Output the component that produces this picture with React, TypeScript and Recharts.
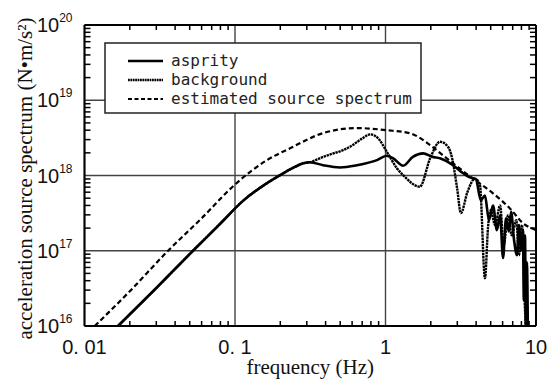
import React from 'react';
import { LineChart, Line, XAxis, YAxis, CartesianGrid, Legend } from 'recharts';

// ---- data (frequency in Hz, acceleration source spectrum in N·m/s²) ----
const asperityFreq = [
  0.0167, 0.03, 0.0526, 0.08, 0.113, 0.163, 0.209, 0.25, 0.284, 0.315,
  0.385, 0.499, 0.647, 0.878, 1.02, 1.12, 1.31, 1.52, 1.78, 2.04, 2.3, 2.81,
  3.2, 3.6, 3.99, 4.3, 4.58, 4.87, 5.18, 5.5, 5.77, 6.04, 6.32, 6.6, 6.83,
  7.15, 7.48, 7.7, 7.95, 8.2, 8.3, 8.45, 8.59, 8.7, 8.85,
];
const asperityAmp = [
  1e16, 3.2e16, 1e17, 2.3e17, 4.6e17, 7.9e17, 1.07e18, 1.3e18, 1.45e18, 1.5e18,
  1.37e18, 1.28e18, 1.37e18, 1.6e18, 1.83e18, 1.7e18, 1.35e18, 1.77e18, 1.97e18, 1.77e18, 1.69e18, 1.37e18,
  1.11e18, 9.5e17, 8.9e17, 4.7e17, 5.4e17, 2.55e17, 4.0e17, 1.88e17, 2.97e17, 8.0e16, 2.7e17, 1.8e17, 3.3e17,
  1.38e17, 8.7e16, 2.19e17, 1.0e17, 1.88e17, 2.2e16, 1.6e17, 5e15, 7e16, 5e15,
];

const backgroundFreq = [
  0.0167, 0.03, 0.0526, 0.08, 0.113, 0.163, 0.209, 0.25, 0.284, 0.315,
  0.385, 0.581, 0.7, 0.789, 0.891, 1.02, 1.19, 1.31, 1.69, 1.98, 2.3, 2.6, 2.77,
  2.99, 3.17, 3.5, 3.93, 4.24, 4.58, 4.8, 5.0, 5.35, 5.77, 6.1, 6.52, 6.9,
  7.4, 7.7, 8.07, 8.4, 8.7,
];
const backgroundAmp = [
  1e16, 3.2e16, 1e17, 2.3e17, 4.6e17, 7.9e17, 1.07e18, 1.3e18, 1.45e18, 1.5e18,
  1.77e18, 2.41e18, 3.1e18, 3.52e18, 3.14e18, 2.07e18, 1.25e18, 1.01e18, 7.1e17, 1.69e18, 2.81e18, 2.41e18, 1.7e18,
  6.8e17, 3.16e17, 6.0e17, 9.1e17, 7.5e17, 4.3e16, 2.06e17, 3.47e17, 2.19e17, 4.0e17, 1.19e17, 2.97e17, 1.6e17,
  2.55e17, 8.7e16, 2.2e17, 2.2e16, 5e15,
];

const sourceFreq = [
  0.0117, 0.02, 0.0359, 0.06, 0.1, 0.163, 0.232, 0.385, 0.647, 1.02,
  1.46, 1.98, 2.41, 3.81, 5.18, 6.71, 8.19, 10,
];
const sourceAmp = [
  1e16, 2.9e16, 1e17, 2.7e17, 7.6e17, 1.6e18, 2.3e18, 3.66e18, 4.27e18, 4.0e18,
  3.63e18, 2.54e18, 1.85e18, 9.1e17, 5.8e17, 3.65e17, 2.33e17, 1.88e17,
];

const seriesNames = ['asprity', 'background', 'estimated source spectrum'];

const xTicks = [0.01, 0.1, 1, 10];
const xTickLabels = ['0. 01', '0. 1', '1', '10'];
const yTicks = [1e16, 1e17, 1e18, 1e19, 1e20];
const yTickExponents = ['16', '17', '18', '19', '20'];
const minorMultipliers = [2, 3, 4, 5, 6, 7, 8, 9];
const xDecades = [0.01, 0.1, 1];
const yDecades = [1e16, 1e17, 1e18, 1e19];

const xMinorTicks = xDecades.flatMap((d) => minorMultipliers.map((m) => d * m));
const yMinorTicks = yDecades.flatMap((d) => minorMultipliers.map((m) => d * m));

const toPoints = (fs: number[], vs: number[]) => fs.map((f, i) => ({ f, v: vs[i] }));
const asperityData = toPoints(asperityFreq, asperityAmp);
const backgroundData = toPoints(backgroundFreq, backgroundAmp);
const sourceData = toPoints(sourceFreq, sourceAmp);

const styles = [
  { width: 2.6, dash: undefined as string | undefined },
  { width: 2.4, dash: '2.4 0.7' },
  { width: 2.2, dash: '5 3' },
];

const TICK_FONT = '"Liberation Sans Narrow", "Liberation Sans", Arial, sans-serif';
const SERIF_FONT = '"Liberation Serif", "Times New Roman", serif';
const MONO_FONT = '"DejaVu Sans Mono", "Liberation Mono", monospace';

const NoLabel = () => <g />;

const XTick = (props: any) => {
  const { x, y, index } = props;
  return (
    <text x={x} y={y + 28} textAnchor="middle" fontFamily={TICK_FONT} fontSize={20} fill="#111">
      {xTickLabels[index]}
    </text>
  );
};

const YTick = (props: any) => {
  const { x, y, index } = props;
  return (
    <text x={x} y={y} textAnchor="end" fontFamily={TICK_FONT} fill="#111">
      <tspan fontSize={20} dy={7}>10</tspan>
      <tspan fontSize={12} dy={-10}>{yTickExponents[index]}</tspan>
    </text>
  );
};

const LegendBox = () => (
  <svg width={318} height={72} style={{ display: 'block' }}>
    <rect x={1} y={1} width={316} height={70} fill="#fff" stroke="#222" strokeWidth={1.5} />
    {seriesNames.map((name, i) => (
      <g key={name}>
        <line
          x1={24}
          x2={59}
          y1={19 + i * 19}
          y2={19 + i * 19}
          stroke="#000"
          strokeWidth={styles[i].width}
          strokeDasharray={i === 2 ? '4 2.5' : i === 1 ? '1.8 0.6' : undefined}
        />
        <text x={67} y={19 + i * 19 + 5} fontFamily={MONO_FONT} fontSize={16} fill="#222">
          {name}
        </text>
      </g>
    ))}
  </svg>
);

export default function App() {
  return (
    <div style={{ position: 'absolute', left: 0, top: 0, width: 553, height: 381, background: '#fff' }}>
      <LineChart width={553} height={381} margin={{ top: 25, right: 17, bottom: 0, left: 0 }}>
        <CartesianGrid stroke="#444" strokeWidth={1.4} fill="none" />
        <XAxis
          xAxisId="minorBottom"
          dataKey="f"
          type="number"
          scale="log"
          domain={[0.01, 10]}
          allowDataOverflow
          ticks={xMinorTicks}
          interval={0}
          orientation="bottom"
          mirror
          height={1}
          tick={<NoLabel />}
          tickSize={5}
          axisLine={false}
          tickLine={{ stroke: '#000', strokeWidth: 1.5 }}
        />
        <XAxis
          dataKey="f"
          type="number"
          scale="log"
          domain={[0.01, 10]}
          allowDataOverflow
          ticks={xTicks}
          interval={0}
          height={55}
          tickSize={0}
          tickMargin={0}
          tickLine={false}
          axisLine={{ stroke: '#000', strokeWidth: 2 }}
          tick={<XTick />}
          label={(p: any) => {
            const vb = p.viewBox;
            return (
              <text x={vb.x + vb.width / 2} y={vb.y + 48} textAnchor="middle" fontFamily={SERIF_FONT} fontSize={21} fill="#111">
                frequency (Hz)
              </text>
            );
          }}
        />
        <XAxis
          xAxisId="top"
          dataKey="f"
          type="number"
          scale="log"
          domain={[0.01, 10]}
          allowDataOverflow
          ticks={xMinorTicks}
          interval={0}
          orientation="top"
          mirror
          height={1}
          tick={<NoLabel />}
          tickSize={5}
          axisLine={{ stroke: '#000', strokeWidth: 2 }}
          tickLine={{ stroke: '#000', strokeWidth: 1.5 }}
        />
        <YAxis
          yAxisId="minorLeft"
          dataKey="v"
          type="number"
          scale="log"
          domain={[1e16, 1e20]}
          allowDataOverflow
          ticks={yMinorTicks}
          interval={0}
          orientation="left"
          mirror
          width={1}
          tick={<NoLabel />}
          tickSize={6}
          axisLine={false}
          tickLine={{ stroke: '#000', strokeWidth: 1.5 }}
        />
        <YAxis
          dataKey="v"
          type="number"
          scale="log"
          domain={[1e16, 1e20]}
          allowDataOverflow
          ticks={yTicks}
          interval={0}
          width={84.5}
          tickSize={0}
          tickMargin={12}
          tickLine={false}
          axisLine={{ stroke: '#000', strokeWidth: 2 }}
          tick={<YTick />}
          label={(p: any) => {
            const vb = p.viewBox;
            const cx = 25;
            const cy = vb.y + vb.height / 2 + 3;
            return (
              <text x={cx} y={cy} transform={`rotate(-90 ${cx} ${cy})`} textAnchor="middle" dominantBaseline="central" fontFamily={SERIF_FONT} fontSize={21} fill="#111">
                acceleration source spectrum (N•m/s²)
              </text>
            );
          }}
        />
        <YAxis
          yAxisId="right"
          dataKey="v"
          type="number"
          scale="log"
          domain={[1e16, 1e20]}
          allowDataOverflow
          ticks={yMinorTicks}
          interval={0}
          orientation="right"
          mirror
          width={1}
          tick={<NoLabel />}
          tickSize={6}
          axisLine={{ stroke: '#000', strokeWidth: 2 }}
          tickLine={{ stroke: '#000', strokeWidth: 1.5 }}
        />
        <Line
          data={sourceData}
          dataKey="v"
          name={seriesNames[2]}
          type="monotoneX"
          stroke="#000"
          strokeWidth={styles[2].width}
          strokeDasharray={styles[2].dash}
          dot={false}
          activeDot={false}
          isAnimationActive={false}
        />
        <Line
          data={backgroundData}
          dataKey="v"
          name={seriesNames[1]}
          type="monotoneX"
          stroke="#000"
          strokeWidth={styles[1].width}
          strokeDasharray={styles[1].dash}
          dot={false}
          activeDot={false}
          isAnimationActive={false}
        />
        <Line
          data={asperityData}
          dataKey="v"
          name={seriesNames[0]}
          type="monotoneX"
          stroke="#000"
          strokeWidth={styles[0].width}
          dot={false}
          activeDot={false}
          isAnimationActive={false}
        />
        <Legend
          layout="horizontal"
          verticalAlign="middle"
          align="center"
          content={() => <LegendBox />}
          wrapperStyle={{ left: 104, top: 42, width: 318, height: 72 }}
        />
      </LineChart>
    </div>
  );
}
